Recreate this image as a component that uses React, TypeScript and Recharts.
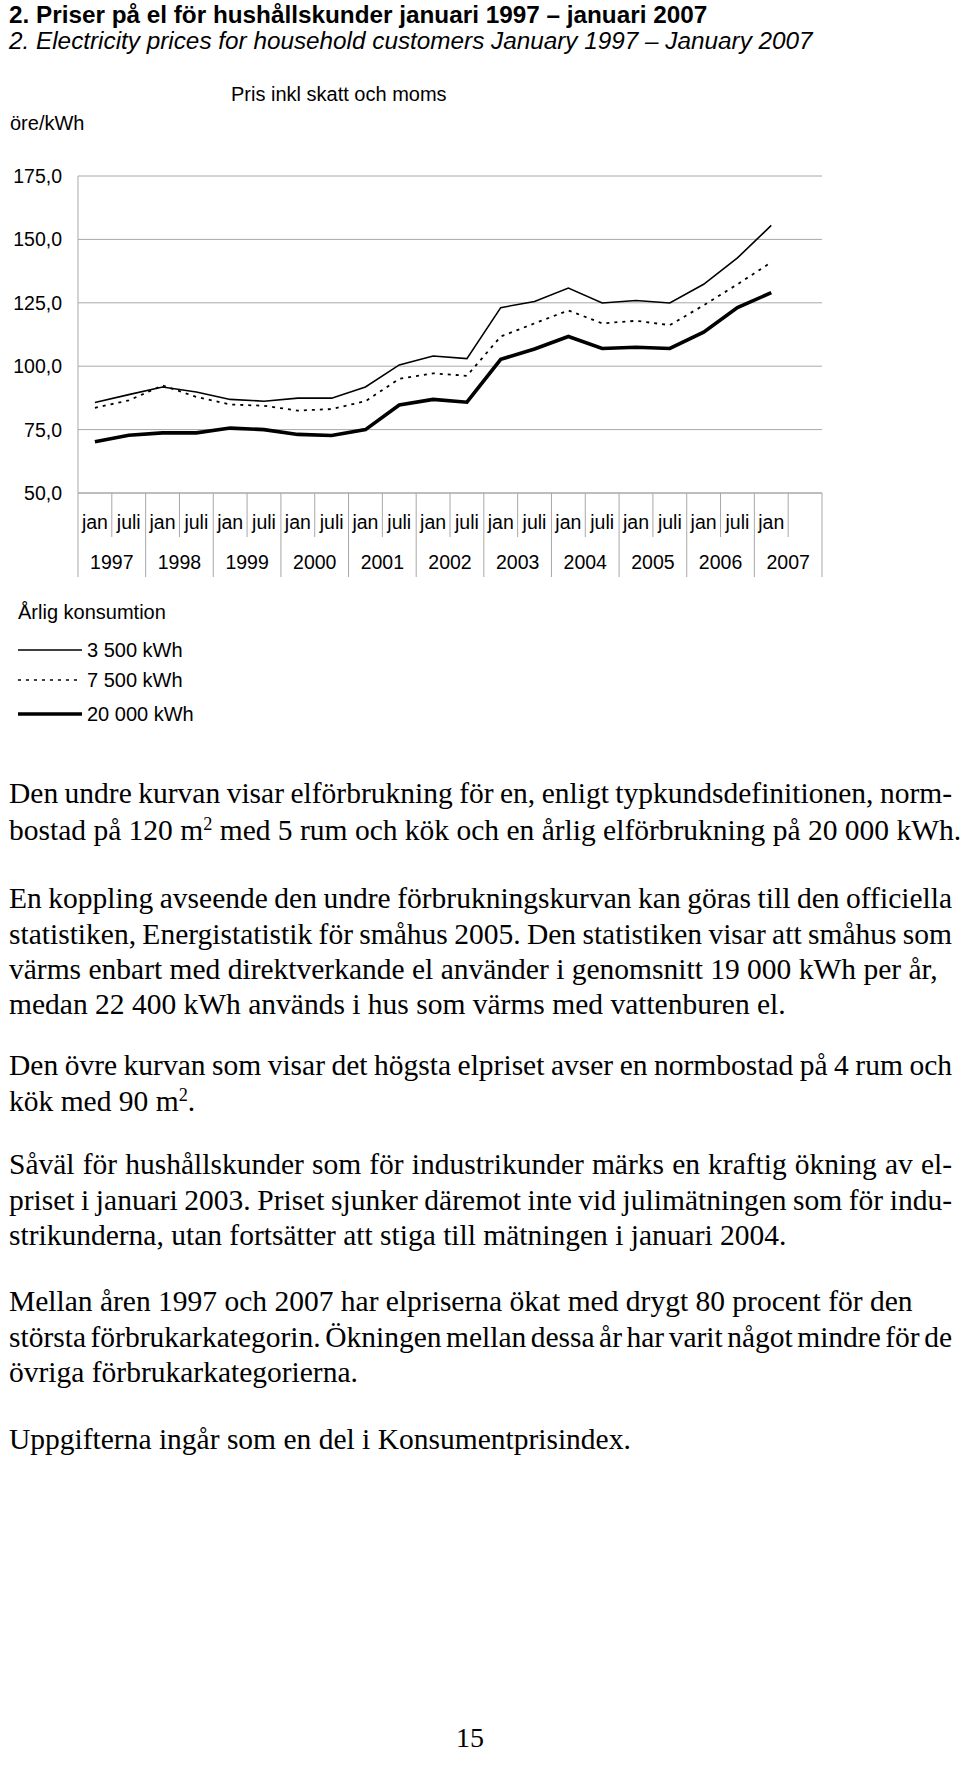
import React from 'react';
import { ComposedChart, Line, XAxis, YAxis, CartesianGrid } from 'recharts';

// ---- data ----
const monthLabels = [
  'jan', 'juli', 'jan', 'juli', 'jan', 'juli', 'jan', 'juli', 'jan', 'juli', 'jan',
  'juli', 'jan', 'juli', 'jan', 'juli', 'jan', 'juli', 'jan', 'juli', 'jan', '',
];
const yearLabels = ['1997', '1998', '1999', '2000', '2001', '2002', '2003', '2004', '2005', '2006', '2007'];
const yTicks = [50, 75, 100, 125, 150, 175];
const seriesNames = ['3 500 kWh', '7 500 kWh', '20 000 kWh'];
const series3500 = [85.7, 88.8, 91.8, 89.8, 86.9, 86.2, 87.4, 87.4, 91.8, 100.5, 104.0, 103.0, 123.1, 125.5, 130.8, 124.9, 125.9, 124.9, 132.3, 142.7, 155.5, null];
const series7500 = [83.6, 86.5, 92.4, 87.9, 84.9, 84.4, 82.5, 83.1, 86.2, 95.0, 97.2, 96.2, 111.7, 116.9, 122.0, 116.9, 117.9, 116.2, 124.0, 132.3, 141.0, null];
const series20000 = [70.2, 72.8, 73.7, 73.7, 75.6, 75.0, 73.1, 72.7, 75.0, 84.7, 86.9, 85.8, 102.7, 106.8, 111.7, 107.0, 107.5, 107.0, 113.4, 123.1, 129.0, null];

const data = monthLabels.map((m, i) => ({
  period: String(i),
  s3500: series3500[i],
  s7500: series7500[i],
  s20000: series20000[i],
}));

// ---- layout ----
const PLOT_LEFT = 78;
const PLOT_RIGHT = 822;
const BW = (PLOT_RIGHT - PLOT_LEFT) / data.length;
const GRID = '#a8a8a8';
const SANS = '"Liberation Sans", Arial, sans-serif';
const SERIF = '"Liberation Serif", "Times New Roman", serif';
const CHART_FONT = 19.5;
const TEXT_WIDTH = 943;

const XTick = (props: any) => {
  const { x, y, payload } = props;
  const i: number = props.index ?? payload.index;
  const yearStart = i % 2 === 0;
  const left = x - BW / 2;
  return (
    <g>
      <line x1={left} x2={left} y1={y} y2={y + (yearStart ? 84 : 44)} stroke={GRID} strokeWidth={1} />
      {i === data.length - 1 && (
        <line x1={x + BW / 2} x2={x + BW / 2} y1={y} y2={y + 84} stroke={GRID} strokeWidth={1} />
      )}
      <text x={x} y={y + 29} textAnchor="middle" dominantBaseline="central" fontFamily={SANS} fontSize={CHART_FONT} fill="#000">
        {monthLabels[i]}
      </text>
      {yearStart && (
        <text x={x + BW / 2} y={y + 69} textAnchor="middle" dominantBaseline="central" fontFamily={SANS} fontSize={CHART_FONT} fill="#000">
          {yearLabels[i / 2]}
        </text>
      )}
    </g>
  );
};

const YTick = (props: any) => {
  const { x, y, payload } = props;
  return (
    <text x={x} y={y} textAnchor="end" dominantBaseline="central" fontFamily={SANS} fontSize={CHART_FONT} fill="#000">
      {Number(payload.value).toFixed(1).replace('.', ',')}
    </text>
  );
};

const SUP: React.CSSProperties = { fontSize: '0.62em', verticalAlign: '0.55em', lineHeight: 0 };

type BodyLine = { text: React.ReactNode; justify: boolean; y: number };

const bodyLines: BodyLine[] = [
  { text: 'Den undre kurvan visar elförbrukning för en, enligt typkundsdefinitionen, norm-', justify: true, y: 793 },
  { text: <>bostad på 120 m<sup style={SUP}>2</sup> med 5 rum och kök och en årlig elförbrukning på 20 000 kWh.</>, justify: false, y: 830 },
  { text: 'En koppling avseende den undre förbrukningskurvan kan göras till den officiella', justify: true, y: 898 },
  { text: 'statistiken, Energistatistik för småhus 2005. Den statistiken visar att småhus som', justify: true, y: 934 },
  { text: 'värms enbart med direktverkande el använder i genomsnitt 19 000 kWh per år,', justify: false, y: 969 },
  { text: 'medan 22 400 kWh används i hus som värms med vattenburen el.', justify: false, y: 1004 },
  { text: 'Den övre kurvan som visar det högsta elpriset avser en normbostad på 4 rum och', justify: true, y: 1065 },
  { text: <>kök med 90 m<sup style={SUP}>2</sup>.</>, justify: false, y: 1101 },
  { text: 'Såväl för hushållskunder som för industrikunder märks en kraftig ökning av el-', justify: true, y: 1164 },
  { text: 'priset i januari 2003. Priset sjunker däremot inte vid julimätningen som för indu-', justify: true, y: 1200 },
  { text: 'strikunderna, utan fortsätter att stiga till mätningen i januari 2004.', justify: false, y: 1235 },
  { text: 'Mellan åren 1997 och 2007 har elpriserna ökat med drygt 80 procent för den', justify: false, y: 1301 },
  { text: 'största förbrukarkategorin. Ökningen mellan dessa år har varit något mindre för de', justify: true, y: 1337 },
  { text: 'övriga förbrukarkategorierna.', justify: false, y: 1372 },
  { text: 'Uppgifterna ingår som en del i Konsumentprisindex.', justify: false, y: 1439 },
];

function TextLine({ line }: { line: BodyLine }) {
  const ref = React.useRef<HTMLSpanElement>(null);
  const [ws, setWs] = React.useState(0);
  React.useLayoutEffect(() => {
    if (!line.justify || !ref.current) return;
    const el = ref.current;
    el.style.wordSpacing = '0px';
    const natural = el.getBoundingClientRect().width;
    const spaces = (el.textContent || '').split(' ').length - 1;
    if (spaces > 0) setWs((TEXT_WIDTH - natural) / spaces);
  }, [line]);
  return (
    <div
      style={{
        position: 'absolute',
        top: line.y - 18,
        left: 9,
        fontFamily: SERIF,
        fontSize: 29.5,
        lineHeight: '36px',
        whiteSpace: 'nowrap',
      }}
    >
      <span ref={ref} style={{ display: 'inline-block', wordSpacing: line.justify ? ws : 0 }}>
        {line.text}
      </span>
    </div>
  );
}

const legendStyles = [
  { strokeWidth: 1.6, dash: undefined as string | undefined },
  { strokeWidth: 1.4, dash: '3 5' },
  { strokeWidth: 3.6, dash: undefined as string | undefined },
];
const legendY = [650, 680, 714];

export default function App() {
  const abs = (top: number, left: number, extra: React.CSSProperties = {}): React.CSSProperties => ({
    position: 'absolute',
    top,
    left,
    whiteSpace: 'nowrap',
    ...extra,
  });
  return (
    <div style={{ position: 'absolute', left: 0, top: 0, width: 960, height: 1774, background: '#fff', overflow: 'hidden' }}>
      <div style={abs(0, 9, { fontFamily: SANS, fontWeight: 'bold', fontSize: 24.3, lineHeight: '30px' })}>
        2. Priser på el för hushållskunder januari 1997 – januari 2007
      </div>
      <div style={abs(26, 9, { fontFamily: SANS, fontStyle: 'italic', fontSize: 24.3, lineHeight: '30px' })}>
        2. Electricity prices for household customers January 1997 – January 2007
      </div>
      <div style={abs(81, 231, { fontFamily: SANS, fontSize: 20, lineHeight: '26px' })}>Pris inkl skatt och moms</div>
      <div style={abs(110, 10, { fontFamily: SANS, fontSize: 20, lineHeight: '26px' })}>öre/kWh</div>

      <div style={{ position: 'absolute', left: 0, top: 0 }}>
        <ComposedChart width={960} height={600} data={data} margin={{ top: 176, right: 960 - PLOT_RIGHT, bottom: 0, left: 0 }}>
          <CartesianGrid vertical={false} stroke={GRID} strokeWidth={1} />
          <XAxis
            dataKey="period"
            type="category"
            scale="band"
            height={107}
            interval={0}
            tickSize={0}
            tickMargin={0}
            tickLine={false}
            axisLine={{ stroke: GRID, strokeWidth: 1 }}
            tick={<XTick />}
          />
          <YAxis
            type="number"
            domain={[50, 175]}
            ticks={yTicks}
            width={PLOT_LEFT}
            tickSize={0}
            tickMargin={16}
            tickLine={false}
            axisLine={{ stroke: GRID, strokeWidth: 1 }}
            tick={<YTick />}
          />
          <Line name={seriesNames[0]} dataKey="s3500" type="linear" stroke="#000" strokeWidth={1.6} dot={false} isAnimationActive={false} />
          <Line name={seriesNames[1]} dataKey="s7500" type="linear" stroke="#000" strokeWidth={1.8} strokeDasharray="3 5" dot={false} isAnimationActive={false} />
          <Line name={seriesNames[2]} dataKey="s20000" type="linear" stroke="#000" strokeWidth={3.6} dot={false} isAnimationActive={false} />
        </ComposedChart>
      </div>

      <div style={abs(599, 18, { fontFamily: SANS, fontSize: 20, lineHeight: '26px' })}>Årlig konsumtion</div>
      {seriesNames.map((name, k) => (
        <React.Fragment key={name}>
          <svg style={{ position: 'absolute', left: 18, top: legendY[k] - 5 }} width={66} height={10}>
            <line x1={0} x2={64} y1={5} y2={5} stroke="#000" strokeWidth={legendStyles[k].strokeWidth} strokeDasharray={legendStyles[k].dash} />
          </svg>
          <div style={abs(legendY[k] - 13, 87, { fontFamily: SANS, fontSize: 20, lineHeight: '26px' })}>{name}</div>
        </React.Fragment>
      ))}

      {bodyLines.map((ln, k) => (
        <TextLine key={k} line={ln} />
      ))}

      <div style={abs(1720, 456, { fontFamily: SERIF, fontSize: 28, lineHeight: '36px' })}>15</div>
    </div>
  );
}
